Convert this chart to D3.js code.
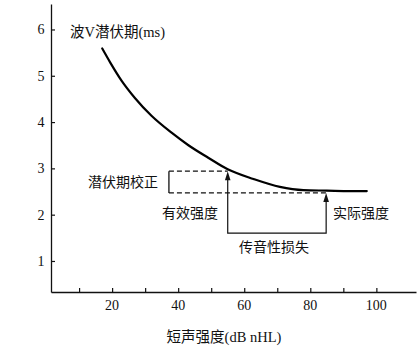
<!DOCTYPE html>
<html><head><meta charset="utf-8">
<script src="https://cdn.jsdelivr.net/npm/d3@7"></script>
<style>
html,body{margin:0;padding:0;background:#fff;}
text{font-family:"Liberation Serif","Noto Sans CJK SC",serif;fill:#111;}
</style></head>
<body><svg id="c" width="418" height="350"></svg>
<script>
// Data
const intensity = [17.0, 19.4, 22.9, 26.9, 32.0, 38.0, 43.1, 49.1, 55.0, 62.8, 70.8, 77.9, 85.0, 92.0, 97.1];
const latency   = [5.59, 5.29, 4.89, 4.52, 4.13, 3.77, 3.50, 3.23, 2.98, 2.77, 2.60, 2.53, 2.52, 2.51, 2.51];
const xTicks = [10, 20, 30, 40, 50, 60, 70, 80, 90, 100];
const xTickLabels = [20, 40, 60, 80, 100];
const yTicks = [1, 2, 3, 4, 5, 6];
const effectiveIntensity = 55;
const actualIntensity = 84.8;
const correctedLatency = 2.94;
const measuredLatency = 2.47;
const bracketX = 37.2;
const lossLevel = 1.6;
const labels = {
  yTitle: "波V潜伏期(ms)",
  xTitle: "短声强度(dB nHL)",
  correction: "潜伏期校正",
  effective: "有效强度",
  actual: "实际强度",
  loss: "传音性损失"
};

const svg = d3.select("#c");
const x = d3.scaleLinear().domain([1.5, 112]).range([51, 416]);
const y = d3.scaleLinear().domain([0.33, 6.55]).range([292, 4]);

// axes
const xAxis = svg.append("g").attr("transform", `translate(0,${y.range()[0]})`)
  .call(d3.axisTop(x).tickValues(xTicks).tickSize(4).tickFormat("").tickSizeOuter(0));
const yAxis = svg.append("g").attr("transform", `translate(${x.range()[0]},0)`)
  .call(d3.axisRight(y).tickValues(yTicks).tickSize(4).tickFormat("").tickSizeOuter(0));
[xAxis, yAxis].forEach(g => {
  g.select(".domain").attr("stroke", "#111").attr("stroke-width", 1.3);
  g.selectAll(".tick line").attr("stroke", "#111").attr("stroke-width", 1.2);
});

svg.append("g").selectAll("text").data(xTickLabels).join("text")
  .attr("x", d => x(d)).attr("y", 310).attr("text-anchor", "middle")
  .attr("font-size", 14).text(d => d);
svg.append("g").selectAll("text").data(yTicks).join("text")
  .attr("x", 44.5).attr("y", d => y(d) + 5).attr("text-anchor", "end")
  .attr("font-size", 14).text(d => d);

svg.append("text").attr("x", 70).attr("y", 37).attr("font-size", 14.5).text(labels.yTitle);
svg.append("text").attr("x", 224).attr("y", 342).attr("text-anchor", "middle").attr("font-size", 14.5).text(labels.xTitle);

// curve
const pts = intensity.map((d, i) => [d, latency[i]]);
svg.append("path").datum(pts)
  .attr("d", d3.line().x(d => x(d[0])).y(d => y(d[1])).curve(d3.curveMonotoneX))
  .attr("fill", "none").attr("stroke", "#000").attr("stroke-width", 2.2).attr("stroke-linecap", "round");

// dashed lines
svg.append("line").attr("x1", x(bracketX)).attr("x2", x(effectiveIntensity))
  .attr("y1", y(correctedLatency)).attr("y2", y(correctedLatency))
  .attr("stroke", "#111").attr("stroke-width", 1.3).attr("stroke-dasharray", "5,3");
svg.append("line").attr("x1", x(bracketX)).attr("x2", x(actualIntensity))
  .attr("y1", y(measuredLatency)).attr("y2", y(measuredLatency))
  .attr("stroke", "#111").attr("stroke-width", 1.3).attr("stroke-dasharray", "5,3");
// bracket vertical
svg.append("line").attr("x1", x(bracketX)).attr("x2", x(bracketX))
  .attr("y1", y(correctedLatency)).attr("y2", y(measuredLatency))
  .attr("stroke", "#111").attr("stroke-width", 1.3);

// arrows + bottom connector
svg.append("path")
  .attr("d", `M${x(effectiveIntensity)},${y(correctedLatency) + 6}V${y(lossLevel)}H${x(actualIntensity)}V${y(measuredLatency) + 6}`)
  .attr("fill", "none").attr("stroke", "#111").attr("stroke-width", 1.2);
[[effectiveIntensity, correctedLatency], [actualIntensity, measuredLatency]].forEach(([a, b]) => {
  const px = x(a), py = y(b);
  svg.append("path").attr("d", `M${px},${py}L${px - 2.8},${py + 9}L${px + 2.8},${py + 9}Z`).attr("fill", "#111");
});

// annotation labels
svg.append("text").attr("x", 158).attr("y", y((correctedLatency + measuredLatency) / 2) + 5)
  .attr("text-anchor", "end").attr("font-size", 14).text(labels.correction);
svg.append("text").attr("x", 162).attr("y", 218).attr("font-size", 14).text(labels.effective);
svg.append("text").attr("x", 333).attr("y", 218).attr("font-size", 14).text(labels.actual);
svg.append("text").attr("x", 274).attr("y", 252).attr("text-anchor", "middle").attr("font-size", 14).text(labels.loss);
</script></body></html>
